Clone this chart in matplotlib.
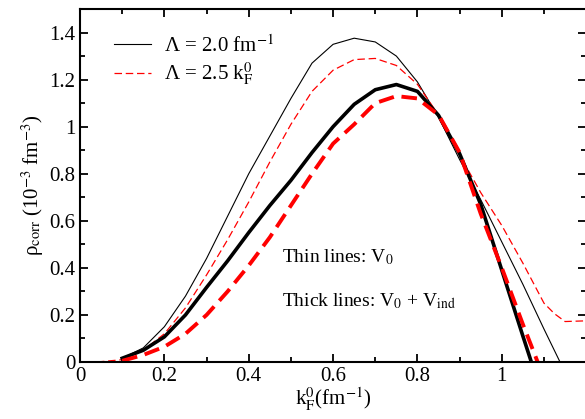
import matplotlib
matplotlib.use("Agg")
import matplotlib.pyplot as plt
import numpy as np

plt.rcParams['font.family'] = ['Liberation Serif', 'DejaVu Serif']
plt.rcParams['mathtext.fontset'] = 'stix'

# thin lines: V0
k_thin_black = [0.1, 0.15, 0.2, 0.25, 0.3, 0.35, 0.4, 0.45, 0.5, 0.55, 0.6, 0.65,
                0.7, 0.75, 0.8, 0.85, 0.9, 0.95, 1.0, 1.05, 1.1, 1.138]
rho_thin_black = [0.016, 0.06, 0.15, 0.28, 0.44, 0.62, 0.80, 0.96, 1.12, 1.27, 1.35, 1.376,
                  1.36, 1.30, 1.19, 1.04, 0.86, 0.69, 0.51, 0.33, 0.14, 0.0]

k_thin_red = [0.04, 0.1, 0.15, 0.2, 0.25, 0.3, 0.35, 0.4, 0.45, 0.5, 0.55, 0.6, 0.65,
              0.7, 0.75, 0.8, 0.85, 0.9, 0.95, 1.0, 1.05, 1.1, 1.125, 1.15, 1.2]
rho_thin_red = [0.0, 0.01, 0.05, 0.12, 0.23, 0.37, 0.52, 0.68, 0.85, 1.01, 1.15, 1.24, 1.285,
                1.29, 1.26, 1.18, 1.05, 0.88, 0.72, 0.58, 0.42, 0.25, 0.205, 0.172, 0.175]

# thick lines: V0 + Vind
k_thick_black = [0.1, 0.15, 0.2, 0.25, 0.3, 0.35, 0.4, 0.45, 0.5, 0.55, 0.6, 0.65,
                 0.7, 0.75, 0.8, 0.85, 0.9, 0.95, 1.0, 1.05, 1.07]
rho_thick_black = [0.016, 0.05, 0.107, 0.2, 0.317, 0.43, 0.55, 0.665, 0.772, 0.89, 1.0, 1.095,
                   1.157, 1.179, 1.15, 1.048, 0.885, 0.67, 0.39, 0.11, 0.0]

k_thick_red = [0.1, 0.15, 0.2, 0.25, 0.3, 0.35, 0.4, 0.45, 0.5, 0.55, 0.6, 0.65,
               0.7, 0.75, 0.8, 0.85, 0.9, 0.95, 1.0, 1.05, 1.085]
rho_thick_red = [0.005, 0.03, 0.065, 0.12, 0.2, 0.3, 0.41, 0.53, 0.665, 0.80, 0.928, 1.01,
                 1.10, 1.13, 1.12, 1.05, 0.89, 0.63, 0.40, 0.16, 0.0]

fig = plt.figure(figsize=(5.85, 4.19), dpi=100)
ax = fig.add_axes([0.1368, 0.136, 0.8652, 0.8425])

ax.plot(k_thin_black, rho_thin_black, color='black', lw=0.8, label='Λ = 2.0 fm$^{-1}$')
ax.plot(k_thin_red, rho_thin_red, color='#ff0000', lw=0.9, dashes=(6, 3), label='Λ = 2.5 k$_\\mathrm{F}^0$')
ax.plot(k_thick_black, rho_thick_black, color='black', lw=2.6)
ax.plot(k_thick_red, rho_thick_red, color='#ff0000', lw=2.8, dashes=(4, 2))

ax.set_xlim(0, 1.2)
ax.set_ylim(0, 1.5)
ax.set_xticks([0, 0.2, 0.4, 0.6, 0.8, 1])
ax.set_xticklabels(['0', '0.2', '0.4', '0.6', '0.8', '1'])
ax.set_yticks([0, 0.2, 0.4, 0.6, 0.8, 1, 1.2, 1.4])
ax.set_yticklabels(['0', '0.2', '0.4', '0.6', '0.8', '1', '1.2', '1.4'])
ax.set_xticks(np.arange(0, 1.2, 0.1), minor=True)
ax.set_yticks(np.arange(0, 1.5, 0.1), minor=True)
ax.tick_params(which='both', direction='in', top=True, right=True, labelsize=15, width=1.3)
ax.tick_params(which='major', length=6)
ax.tick_params(which='minor', length=3.5)
for s in ax.spines.values():
    s.set_linewidth(1.5)
ax.spines['right'].set_visible(False)

ax.set_xlabel('k$_\\mathrm{F}^0$(fm$^{-1}$)', fontsize=15, labelpad=0)
ax.set_ylabel('ρ$_\\mathrm{corr}$ (10$^{-3}$ fm$^{-3}$)', fontsize=15, labelpad=2)

ax.text(0.48, 0.445, 'Thin lines: V$_0$', fontsize=14, va='center')
ax.text(0.48, 0.26, 'Thick lines: V$_0$ + V$_\\mathrm{ind}$', fontsize=14, va='center')

ax.legend(loc='upper left', bbox_to_anchor=(0.03, 0.98), frameon=False, fontsize=15,
          handlelength=1.8, handletextpad=0.6, labelspacing=0.2)

fig.savefig('out.png', dpi=100)
